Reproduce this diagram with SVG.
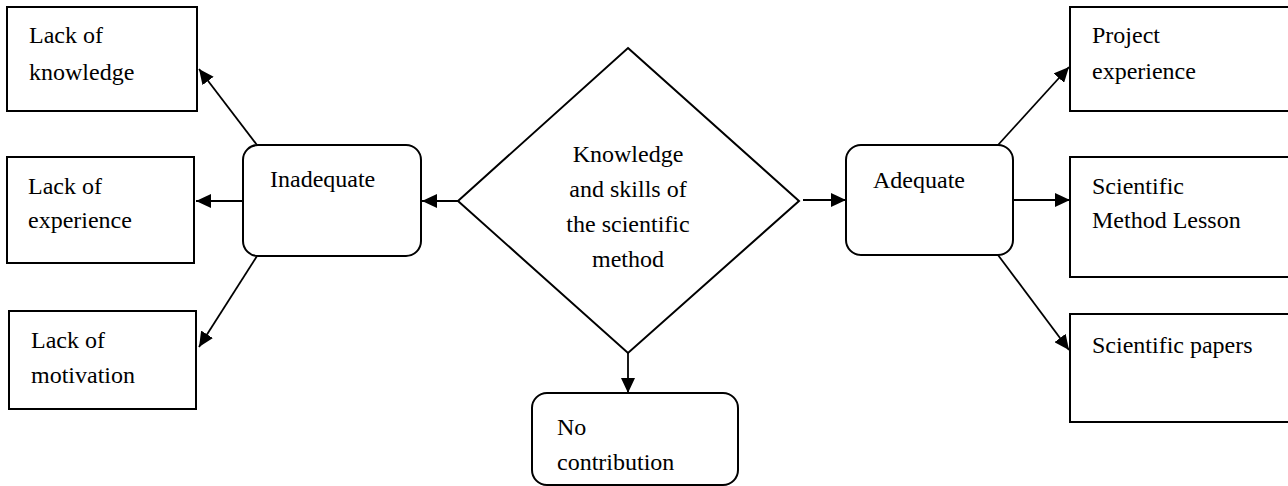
<svg xmlns="http://www.w3.org/2000/svg" width="1288" height="486" viewBox="0 0 1288 486">
<style>
.box{fill:#fff;stroke:#000;stroke-width:2}
.rbox{fill:#fff;stroke:#000;stroke-width:2}
.conn{stroke:#000;stroke-width:1.8;fill:none;marker-end:url(#ah)}
text{font-family:'Liberation Serif','DejaVu Serif',serif;font-size:24px;fill:#000}
.c{text-anchor:middle}
</style>
<defs>
<marker id="ah" markerUnits="userSpaceOnUse" markerWidth="16" markerHeight="14" refX="15" refY="7" orient="auto">
<path d="M0,0 L15,7 L0,14 z" fill="#000"/>
</marker>
</defs>
<rect width="1288" height="486" fill="#fff"/>
<g id="connectors">
<line class="conn" x1="458" y1="201" x2="422" y2="201"/>
<line class="conn" x1="243" y1="201" x2="196" y2="201"/>
<line class="conn" x1="257" y1="145" x2="199" y2="69"/>
<line class="conn" x1="257" y1="256" x2="199" y2="347"/>
<line class="conn" x1="803" y1="200" x2="846" y2="200"/>
<line class="conn" x1="1013" y1="200" x2="1070" y2="200"/>
<line class="conn" x1="998" y1="145" x2="1069" y2="67"/>
<line class="conn" x1="998" y1="255" x2="1069" y2="350"/>
<line class="conn" x1="628" y1="353" x2="628" y2="393"/>
</g>
<g id="lack-knowledge">
<rect class="box" x="7" y="7" width="190" height="104"/>
<text x="29" y="43">Lack of</text>
<text x="29" y="80">knowledge</text>
</g>
<g id="lack-experience">
<rect class="box" x="7" y="157" width="187" height="106"/>
<text x="28" y="194">Lack of</text>
<text x="28" y="228">experience</text>
</g>
<g id="lack-motivation">
<rect class="box" x="9" y="311" width="187" height="98"/>
<text x="31" y="348">Lack of</text>
<text x="31" y="383">motivation</text>
</g>
<g id="inadequate">
<rect class="rbox" x="243" y="145" width="178" height="111" rx="15" ry="15"/>
<text x="270" y="187">Inadequate</text>
</g>
<g id="decision">
<polygon class="box" points="628,48 799,201 628,353 458,201"/>
<text class="c" x="628" y="162">Knowledge</text>
<text class="c" x="628" y="197">and skills of</text>
<text class="c" x="628" y="232">the scientific</text>
<text class="c" x="628" y="267">method</text>
</g>
<g id="no-contribution">
<rect class="rbox" x="532" y="393" width="206" height="92" rx="15" ry="15"/>
<text x="557" y="435">No</text>
<text x="557" y="470">contribution</text>
</g>
<g id="adequate">
<rect class="rbox" x="846" y="145" width="167" height="110" rx="15" ry="15"/>
<text x="873" y="188">Adequate</text>
</g>
<g id="project-experience">
<rect class="box" x="1070" y="7" width="240" height="104"/>
<text x="1092" y="43">Project</text>
<text x="1092" y="79">experience</text>
</g>
<g id="sm-lesson">
<rect class="box" x="1070" y="157" width="240" height="120"/>
<text x="1092" y="194">Scientific</text>
<text x="1092" y="228">Method Lesson</text>
</g>
<g id="sci-papers">
<rect class="box" x="1070" y="314" width="240" height="108"/>
<text x="1092" y="353">Scientific papers</text>
</g>
</svg>
